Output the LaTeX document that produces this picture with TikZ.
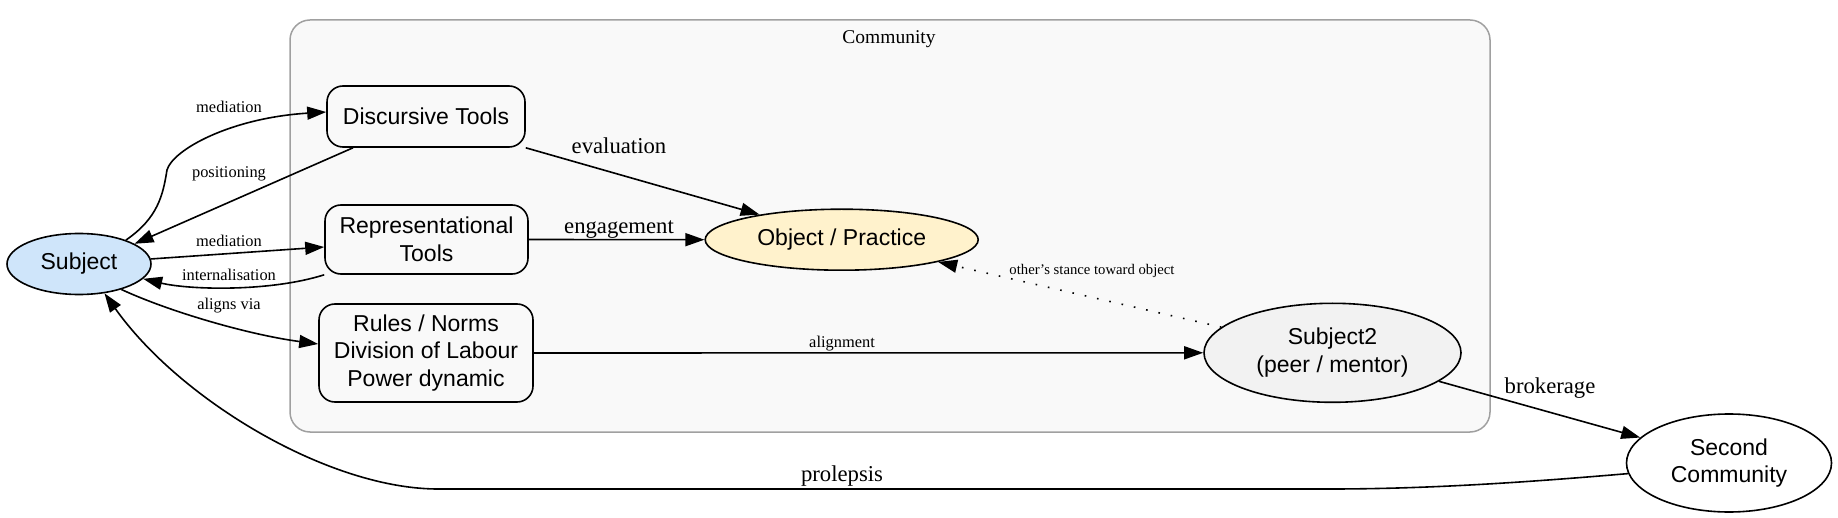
\documentclass[tikz,border=0pt]{standalone}
\usepackage{fontspec}
\setmainfont{Liberation Serif}
\newfontfamily\nodefont{Liberation Sans}
\usetikzlibrary{arrows.meta,shapes.geometric}
\definecolor{clusterfill}{HTML}{F9F9F9}
\definecolor{clusterdraw}{HTML}{A0A0A0}
\definecolor{subjfill}{HTML}{CFE5FA}
\definecolor{objfill}{HTML}{FFF2CC}
\definecolor{subtwofill}{HTML}{F2F2F2}
\tikzset{
  nodetext/.style={font=\nodefont\fontsize{23}{27.6}\selectfont, align=center, inner sep=0pt, line width=1.6pt, draw=black},
  toolbox/.style={nodetext, rectangle, rounded corners=16pt},
  oval/.style={nodetext, ellipse},
  conn/.style={line width=1.6pt, -{Triangle[length=19pt,width=13pt]}},
  dotconn/.style={conn, dash pattern=on 1.6pt off 11pt},
  smalllab/.style={font=\fontsize{16.4}{19}\selectfont, inner sep=0pt},
  biglab/.style={font=\fontsize{22.7}{26}\selectfont, inner sep=0pt},
  tinylab/.style={font=\fontsize{14.7}{17}\selectfont, inner sep=0pt},
}
\begin{document}
\begin{tikzpicture}[x=1pt,y=-1pt]
\useasboundingbox (0,0) rectangle (1838,518);
% cluster
\node[draw=clusterdraw, fill=clusterfill, line width=1.5pt, rounded corners=20pt,
      minimum width=1200pt, minimum height=412pt, inner sep=0pt] (community) at (890,226) {};
\node[font=\fontsize{19.5}{22}\selectfont, inner sep=0pt] (communitylabel) at (889,39) {Community};
% nodes
\node[oval, fill=subjfill, minimum width=144pt, minimum height=61pt] (subject) at (79,264) {Subject};
\node[toolbox, minimum width=198pt, minimum height=61pt] (disc) at (426,116.5) {Discursive Tools};
\node[toolbox, minimum width=203pt, minimum height=69pt] (rep) at (426.5,239.5) {Representational\\Tools};
\node[toolbox, minimum width=214pt, minimum height=98pt] (rules) at (426,353) {Rules / Norms\\Division of Labour\\Power dynamic};
\node[oval, fill=objfill, minimum width=273pt, minimum height=61pt] (obj) at (841.7,239.7) {Object / Practice};
\node[oval, fill=subtwofill, minimum width=257pt, minimum height=99pt] (sub2) at (1332.5,352.8) {Subject2\\(peer / mentor)};
\node[oval, fill=white, minimum width=205pt, minimum height=98pt] (sec) at (1729,463) {Second\\Community};
% edges
\draw[conn] (subject.27) .. controls (158,218) and (163,195) .. (167,170)
   .. controls (172.6,150) and (230,118) .. ([yshift=4.5pt]disc.west)
   node[smalllab] (lmed1) at (229,107) {mediation};
\draw[conn] ([xshift=-73pt]disc.south) -- (subject.20)
   node[smalllab] (lpos) at (229,174) {positioning};
\draw[conn] (subject.4) -- ([yshift=-7.5pt]rep.west)
   node[smalllab] (lmed2) at (229,241) {mediation};
\draw[conn] (rep.south west) .. controls (270,292) and (190,290) .. (subject.-13)
   node[smalllab] (lint) at (229,275) {internalisation};
\draw[conn] (subject.-31) .. controls (170,312) and (250,335) .. ([yshift=9pt]rules.west)
   node[smalllab] (lalign) at (229,306) {aligns via};
\draw[conn] (disc.south east) -- (obj.163)
   node[biglab] (leval) at (619,146) {evaluation};
\draw[conn] (rep.east) -- (obj.west)
   node[biglab] (leng) at (619,229.5) {engagement};
\draw[conn] (rules.east) -- (sub2.west)
   node[smalllab] (lalignment) at (842,344) {alignment};
\draw[dotconn] (sub2.167.4) -- (obj.-13)
   node[tinylab] (lstance) at (1092,271) {other's stance toward object};
\draw[conn] (sub2.-15.3) -- (sec.164.5)
   node[biglab] (lbrok) at (1550,388) {brokerage};
\draw[conn] (sec.186) .. controls (1530,482) and (1430,489) .. (1330,489) -- (440,489)
   .. controls (330,490) and (180,400) .. (subject.-49)
   node[biglab] (lprol) at (842,476) {prolepsis};
\end{tikzpicture}
\end{document}
